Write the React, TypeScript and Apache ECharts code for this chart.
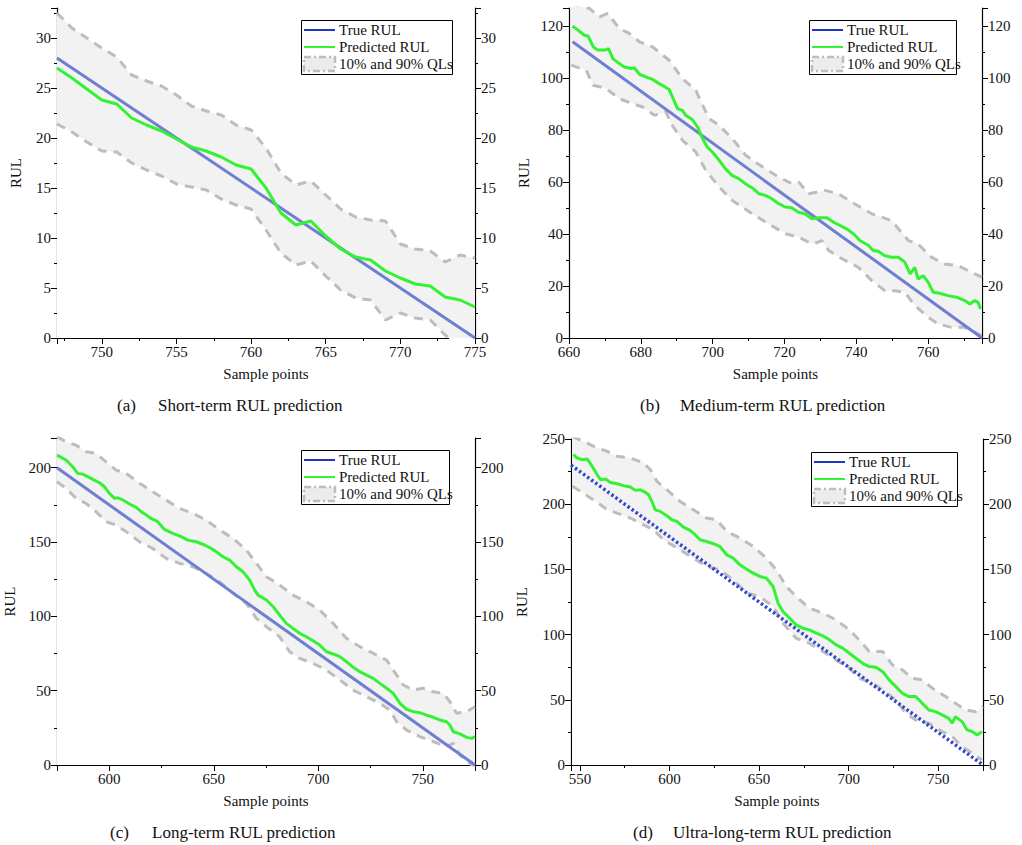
import React, { useEffect, useRef } from "react";
import * as echarts from "echarts";

// ---------- Data ----------
// (a) short-term
const aTrue: number[][] = [[747, 28], [775, 0]];
const aPredX = [747,748,749,750,751,752,753,754,755,756,757,758,759,760,761,762,763,764,765,766,767,768,769,770,771,772,773,774,775];
const aPredY = [27,26,24.9,23.8,23.4,22,21.3,20.7,19.9,19.1,18.7,18.1,17.3,16.9,15,12.5,11.3,11.7,10.2,8.9,8.1,7.8,6.7,6.0,5.4,5.2,4.1,3.8,3.1];
const aUpY = [32.5,31,30,29,28.1,26.3,25.7,25.2,24.3,23.2,22.7,22.3,21.3,20.8,19,16.5,15.3,15.7,14.3,12.9,12.1,11.8,11.7,9.4,8.9,8.7,7.6,8.3,8.0];
const aLoY = [21.4,20.6,19.6,18.7,18.6,17.5,16.8,16.2,15.4,15.1,14.8,13.9,13.3,12.9,10.8,8.5,7.3,7.7,6.2,4.8,4.0,3.8,1.8,2.5,2.0,1.8,0.3,-1,-2];

// (b) medium-term
const bTrue: number[][] = [[661, 114], [775, 0]];
const bPredX = [661,662.5,664.3,665.3,666.8,668,670,671,672.2,674,675.4,677.3,678.2,679.6,681.9,683.3,685.1,687,687.9,688.8,690.2,691.6,692.5,694.4,695.8,697.2,698.5,699.9,701.8,703.6,705.4,707.3,709.1,711.4,712.9,714.7,716.5,718.4,720.2,722,723.9,725.7,727.6,729.5,731.8,733.6,735.5,737.3,739.2,741,743.4,744.7,746.1,747.9,749.8,751.7,753.5,755,756.3,757.2,758.6,760,761.4,763.2,765.5,767.9,770.2,771.6,773,773.9,774.6];
const bPredY = [120,118.5,116.5,116.2,112,110.8,110.8,111.4,107.5,105.6,104.3,103.7,104,101.5,100.2,99.5,97.9,96.4,95.6,92.8,88.3,87.6,85.7,84,81.2,76.7,73.5,71.6,68.4,65.1,62.6,61.3,59.4,57.4,55.5,54.9,53.6,51.7,50.4,50.1,48.4,47.8,45.9,46.3,46.3,44.6,43.3,42,40.1,37.5,35.6,33.7,33.4,31.7,31.1,31.1,29.2,24.7,27.2,22.7,24,21.5,17.6,17.2,16.3,15.7,14.4,13.1,14.4,13.7,11.2];
const bUpX = [660.6,665.7,668.5,670.8,674,676.8,679.6,683.3,687.9,691.6,695.3,699,701.8,705.5,709.2,714.7,718.4,722.1,724,726.7,731.3,735,738.7,744.3,749.8,754.5,757.2,760.9,764.6,768.3,772,775];
const bUpY = [128.7,126.8,123.6,124.9,119.1,117.2,114,112,106.9,99.8,95.3,84.4,81.8,76.7,70.3,65.1,61.9,59.4,60,55.5,56.8,55.5,52.3,47.8,45.2,37.5,36.2,31.1,28.5,27.9,25.3,23.4];
const bLoX = [660.6,664.8,666.7,670.4,672.2,674,677.7,680.5,683.8,687,688.4,691.6,695.3,698.1,701.8,705.5,711,715.6,720.3,724,726.7,728.1,730.4,732.3,736,740.6,744.3,748,750.8,753.5,756.3,760,762.8,766.5,770.2,775];
const bLoY = [105,103,97.3,96,94,92.1,90.2,88.9,85.7,87,82.5,76.1,71.6,64.5,58.1,52.9,47.8,43.9,40.1,38.8,36.9,36.2,37.5,33.7,30.5,27.2,22.1,18.2,18.2,17.6,12.5,8,5.4,4.1,4.1,0.9];

// (c) long-term
const cTrue: number[][] = [[575, 200], [775, 0]];
const cPredX = [575,579.3,582.5,584.9,587.3,589.7,592.1,595.3,597.7,600.1,602.5,604.1,606.5,609.7,612.9,615.3,617.7,620,623.2,626.4,630.4,634.4,637.6,641.6,645.6,648.8,651.2,654.4,657.6,660.8,664,667.2,669.6,671.2,675.2,678.4,681.5,684.7,687.9,691.1,694.3,697.5,700.7,703.9,707.1,710.3,713.5,716.7,719.9,723.1,726.3,729.5,732.7,735.9,739.1,742.3,745.4,748.6,751.8,755,758.2,761.4,763,764.6,767.8,771,773.4,775];
const cPredY = [208.5,205.2,200.7,196.2,195.7,194,192.2,189.9,187.2,182.7,179.4,179.8,178.3,175.6,173.3,170.4,168.2,165.9,163.7,158.5,155.8,153.6,151.3,150.2,148,145.7,143.5,140.1,137.9,133.4,130,124.4,117.7,114.3,111,106.5,100.9,95.3,91.9,88.6,86.3,83.6,80.7,76.2,74.7,72.9,69.5,65.7,62.8,60.5,58.3,54.9,51.6,48.2,41.5,37.4,35.9,35.2,33.6,32.1,30.3,29.1,26.9,22.4,20.9,18.6,17.9,19.1];
const cUpX = [575,579.3,584.1,588.9,593.7,598.5,603.3,608.1,614.5,620.8,627.2,633.6,640,646.4,652.8,659.2,665.6,670.4,675.2,681.5,687.9,694.3,700.7,707.1,713.5,719.9,726.3,732.7,735.9,740.7,745.4,750.2,755,759.8,763,766.2,771,775];
const cUpY = [220.9,217.5,215.2,210.8,209.6,204,198.4,196.2,189.5,183.9,178.3,172.6,169.3,164.8,158.1,152.5,144.6,135.7,126.7,121.1,114.3,109.9,104.3,95.3,85.2,79.6,75.1,70.6,63.9,53.8,50.4,51.6,49.3,48.2,42.6,34.8,35.9,39.2];
const cLoX = [575,579.3,584.1,588.9,593.7,598.5,603.3,608.1,614.5,620.8,627.2,633.6,640,646.4,652.8,659.2,665.6,670.4,675.2,681.5,686.3,691.1,697.5,703.9,710.3,716.7,723.1,729.5,734.3,737.5,742.3,748.6,755,761.4,764.6,767.8,772.6,775];
const cLoY = [190.6,186.1,179.4,176,170.4,163.7,161.4,157,150.2,145.7,139,135.7,133.4,128.9,123.3,115.5,108.7,98.7,93,86.3,76.2,71.7,68.4,63.9,57.2,50.4,46,41.5,37,29.1,23.5,19.1,15.7,12.3,14.6,6.7,1.1,-2];

// (d) ultra-long-term
const dTrue: number[][] = [[545, 230], [775, 0]];
const dPredX = [546.3,548.5,551.3,554.1,556.9,559.6,561.5,564.3,567,570.7,574.4,578.1,580.9,583.7,586.5,588.3,590.2,592,594.8,598.5,601.3,604.1,607.8,611.5,614.3,617,620.7,624.4,628.1,631.9,635.6,639.3,643,646.7,650.4,654.1,657.8,660.6,663.3,667,670.7,674.4,678.1,681.9,685.6,689.3,693,696.7,700.4,704.1,707.8,711.5,715.2,719,722.6,726.3,730,733.7,737.4,741.1,744.8,748.5,752.2,755.9,757.8,759.6,763.3,766.1,768.9,771.7,774.4];
const dPredY = [238,235.4,234.1,234.6,229,222.6,218.8,219.3,216.7,215.7,214.2,213.2,210.6,211.1,209.1,207.3,202.1,195.7,194.5,191.1,188.1,186.8,182.4,179.9,176.6,172.7,171.4,169.7,167.6,161.2,158.6,153.5,150.2,147.1,144.6,143.3,136.9,124.1,117.7,112.6,107.5,104.9,103.6,101.1,99,96,92.1,89.6,85.7,81.9,78,75.5,75,71.6,65.3,60.1,55,52.5,52.5,47.3,42.2,40.9,38.4,35.8,32,37.1,33.3,26.9,25.6,23,25.6];
const dUpX = [545.7,554.1,559.6,565.2,570.7,578.1,585.6,589.3,593,598.5,605.9,613.3,620.7,626.3,631.9,639.3,646.7,654.1,659.6,665.2,670.7,678.1,685.6,693,700.4,705.9,711.5,719,724.4,730,735.6,741.1,746.7,754.1,759.6,765.2,770.7,775];
const dUpY = [252,246.9,243.1,240.5,236.7,235.4,231.6,226.5,217.5,211.1,202.1,195.7,189.4,188.1,179.1,174,167.6,158.6,149.7,136.9,129.2,120.3,116.4,111.3,103.6,96,87,87,76.8,72.9,66.5,65.3,58.9,52.5,47.3,42.2,40.9,44.8];
const dLoX = [545.7,550.4,555.9,561.5,565.2,570.7,578.1,585.6,591.1,596.7,605.9,613.3,620.7,628.1,635.6,643,650.4,657.8,663.3,670.7,678.1,685.6,693,700.4,705.9,713.3,719,726.3,731.9,737.4,744.8,752.2,757.8,763.3,768.9,774.4];
const dLoY = [213.7,209.8,204.7,199.6,195.7,193.2,189.4,184.2,180.4,172.7,165,158.6,152.3,149.7,142,131.8,129.2,121.5,108.8,97.2,93.4,87,80.6,74.2,66.5,62.7,57.6,49.9,39.7,34.5,32,25.6,21.8,14.1,9,3.8];

const captions = ["(a)", "(b)", "(c)", "(d)"];
const captionTexts = ["Short-term RUL prediction", "Medium-term RUL prediction", "Long-term RUL prediction", "Ultra-long-term RUL prediction"];
const legendNames = ["True RUL", "Predicted RUL", "10% and 90% QLs"];

const FONT = "Liberation Serif";
const zip = (xs: number[], ys: number[]) => xs.map((x, i) => [x, ys[i]]);

interface Panel {
  grid: { left: number; top: number; width: number; height: number };
  xMin: number; xMax: number; xSplit: number; xInterval?: number;
  yMax: number; yInterval: number;
  trueD: number[][]; pred: number[][]; up: number[][]; lo: number[][];
  dotted: boolean; yNameGap: number;
  legend: { x: number; y: number; w: number };
  cap: { x: number; tx: number; y: number };
  hideXMax: boolean; showXMin: boolean;
}

const panels: Panel[] = [
  { grid: { left: 57, top: 8, width: 418, height: 330 }, xMin: 747, xMax: 775, xSplit: 6, yMax: 33, yInterval: 5,
    trueD: aTrue, pred: zip(aPredX, aPredY), up: zip(aPredX, aUpY), lo: zip(aPredX, aLoY), dotted: false, yNameGap: 34,
    legend: { x: 301, y: 20, w: 151 }, cap: { x: 117, tx: 158, y: 405 }, hideXMax: false, showXMin: false },
  { grid: { left: 569, top: 8, width: 413, height: 330 }, xMin: 660, xMax: 775, xSplit: 6, xInterval: 20, yMax: 127, yInterval: 20,
    trueD: bTrue, pred: zip(bPredX, bPredY), up: zip(bUpX, bUpY), lo: zip(bLoX, bLoY), dotted: false, yNameGap: 38,
    legend: { x: 809, y: 20, w: 147 }, cap: { x: 640, tx: 680, y: 405 }, hideXMax: true, showXMin: true },
  { grid: { left: 57, top: 438, width: 418, height: 327 }, xMin: 575, xMax: 775, xSplit: 4, yMax: 220, yInterval: 50,
    trueD: cTrue, pred: zip(cPredX, cPredY), up: zip(cUpX, cUpY), lo: zip(cLoX, cLoY), dotted: false, yNameGap: 40,
    legend: { x: 301, y: 450, w: 148 }, cap: { x: 110, tx: 152, y: 832 }, hideXMax: true, showXMin: false },
  { grid: { left: 571, top: 439, width: 412, height: 326 }, xMin: 545, xMax: 775, xSplit: 5, yMax: 250, yInterval: 50,
    trueD: dTrue, pred: zip(dPredX, dPredY), up: zip(dUpX, dUpY), lo: zip(dLoX, dLoY), dotted: true, yNameGap: 42,
    legend: { x: 811, y: 452, w: 146 }, cap: { x: 633, tx: 673, y: 832 }, hideXMax: true, showXMin: false },
];

const labelStyle = { fontFamily: FONT, fontSize: 15, color: "#111" };

function buildOption() {
  const grid: any[] = [], xAxis: any[] = [], yAxis: any[] = [], series: any[] = [], graphic: any[] = [];
  panels.forEach((p, i) => {
    grid.push({ ...p.grid, containLabel: false });
    const axLine = { show: true, lineStyle: { color: "#000", width: 1.2 } };
    const xBase = { type: "value", gridIndex: i, min: p.xMin, max: p.xMax, splitLine: { show: false },
      axisLine: axLine, minorTick: { show: true, splitNumber: 2, length: 3, lineStyle: { color: "#000" } } };
    if (p.xInterval) (xBase as any).interval = p.xInterval; else (xBase as any).splitNumber = p.xSplit;
    xAxis.push({ ...xBase, position: "bottom", name: "Sample points", nameLocation: "middle", nameGap: 28,
      nameTextStyle: { fontFamily: FONT, fontSize: 15, color: "#111" },
      axisTick: { show: true, inside: false, length: 6, lineStyle: { color: "#000" } },
      axisLabel: { ...labelStyle, margin: 6, showMinLabel: p.showXMin, showMaxLabel: !p.hideXMax } });
    xAxis.push({ ...xBase, position: "top", axisTick: { show: true, inside: true, length: 6, lineStyle: { color: "#000" } },
      axisLabel: { show: false } });
    const yBase = { type: "value", gridIndex: i, min: 0, max: p.yMax, interval: p.yInterval, splitLine: { show: false },
      axisLine: axLine, axisTick: { show: true, inside: false, length: 6, lineStyle: { color: "#000" } },
      minorTick: { show: true, splitNumber: 2, length: 3, lineStyle: { color: "#000" } } };
    yAxis.push({ ...yBase, position: "left", name: "RUL", nameLocation: "middle", nameGap: p.yNameGap, nameRotate: 90,
      nameTextStyle: { fontFamily: FONT, fontSize: 15, color: "#111" },
      axisLabel: { ...labelStyle, margin: 6, showMaxLabel: p.yMax % p.yInterval === 0 } });
    yAxis.push({ ...yBase, position: "right", axisLabel: { ...labelStyle, margin: 6, showMaxLabel: p.yMax % p.yInterval === 0 } });

    const common = { xAxisIndex: 2 * i, yAxisIndex: 2 * i, symbol: "none", clip: true, silent: true };
    const dash = { color: "#bdbdbd", width: 3, type: [9, 7] };
    series.push({ ...common, type: "line", name: "upper", data: p.up, lineStyle: dash,
      areaStyle: { color: "#f2f2f2", opacity: 1, origin: "start" } });
    series.push({ ...common, type: "line", name: "lower", data: p.lo, lineStyle: dash,
      areaStyle: { color: "#ffffff", opacity: 1, origin: "start" } });
    series.push({ ...common, type: "line", name: "true", data: p.trueD,
      lineStyle: p.dotted ? { color: "#3347c8", width: 3.5, type: [2.5, 2.5] } : { color: "#6f7ed1", width: 3 } });
    series.push({ ...common, type: "line", name: "pred", data: p.pred, lineStyle: { color: "#33f233", width: 3 } });

    const L = p.legend, h = 54;
    graphic.push({ type: "rect", left: L.x, top: L.y, shape: { width: L.w, height: h }, style: { fill: "#fff", stroke: "#000", lineWidth: 1 }, z: 100 });
    const rows = [L.y + 10, L.y + 27, L.y + 44];
    graphic.push({ type: "line", shape: { x1: L.x + 3, y1: rows[0], x2: L.x + 34, y2: rows[0] }, style: { stroke: "#1f35c4", lineWidth: 2 }, z: 101 });
    graphic.push({ type: "line", shape: { x1: L.x + 3, y1: rows[1], x2: L.x + 34, y2: rows[1] }, style: { stroke: "#33f233", lineWidth: 2 }, z: 101 });
    graphic.push({ type: "rect", shape: { x: L.x + 3, y: rows[2] - 7, width: 31, height: 14 }, style: { fill: "#ececec", stroke: "#bdbdbd", lineWidth: 2.5, lineDash: [7, 3, 2, 3] }, z: 101 });
    legendNames.forEach((n, k) => {
      graphic.push({ type: "text", x: L.x + 38, y: rows[k], style: { text: n, font: `15px "${FONT}"`, fill: "#111", verticalAlign: "middle" }, z: 101 });
    });
    graphic.push({ type: "text", x: p.cap.x, y: p.cap.y, style: { text: captions[i], font: `17px "${FONT}"`, fill: "#111", verticalAlign: "middle" } });
    graphic.push({ type: "text", x: p.cap.tx, y: p.cap.y, style: { text: captionTexts[i], font: `17px "${FONT}"`, fill: "#111", verticalAlign: "middle" } });
  });
  return { animation: false, backgroundColor: "#fff", textStyle: { fontFamily: FONT, fontSize: 15 }, grid, xAxis, yAxis, series, graphic };
}

export default function App() {
  const ref = useRef<HTMLDivElement>(null);
  useEffect(() => {
    if (!ref.current) return;
    const chart = echarts.init(ref.current, undefined, { renderer: "svg" });
    chart.setOption(buildOption() as any);
    return () => chart.dispose();
  }, []);
  return <div ref={ref} style={{ position: "absolute", left: 0, top: 0, width: 1022, height: 845 }} />;
}
